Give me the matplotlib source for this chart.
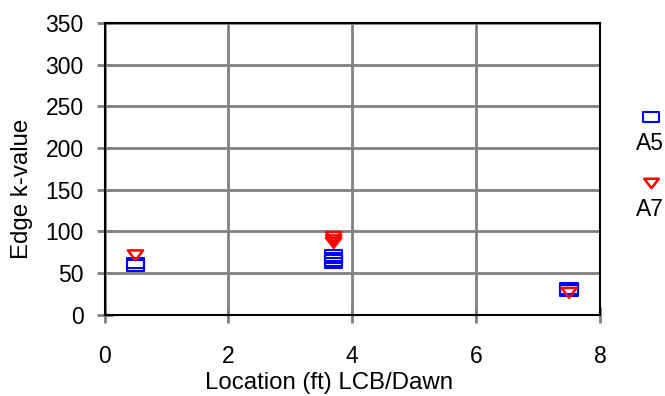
import matplotlib
matplotlib.use("Agg")
import matplotlib.pyplot as plt
from matplotlib.path import Path
from matplotlib.lines import Line2D

plt.rcParams['font.family'] = ['Liberation Sans', 'DejaVu Sans']

# Data
a5_x = [0.5, 0.5, 3.7, 3.7, 3.7, 3.7, 7.5, 7.5]
a5_y = [59, 62, 62, 65, 68, 71, 29, 31]
a7_x = [0.5, 3.7, 3.7, 3.7, 7.5]
a7_y = [71, 86, 89, 93, 26]
x_ticks = [0, 2, 4, 6, 8]
y_ticks = [0, 50, 100, 150, 200, 250, 300, 350]
series_names = ['A5', 'A7']

rect = Path([(-1, -0.6), (1, -0.6), (1, 0.6), (-1, 0.6), (-1, -0.6)],
            [Path.MOVETO, Path.LINETO, Path.LINETO, Path.LINETO, Path.CLOSEPOLY])
tri = Path([(-1, 0.65), (1, 0.65), (0, -0.65), (-1, 0.65)],
           [Path.MOVETO, Path.LINETO, Path.LINETO, Path.CLOSEPOLY])

W, H = 665, 396
fig = plt.figure(figsize=(W/100, H/100), dpi=100)
ax = fig.add_axes([104.5/W, 1 - 314.5/H, (600-104.5)/W, (314.5-23)/H])

ax.scatter(a5_x, a5_y, marker=rect, s=155, facecolors='none', edgecolors='#0000ff',
           linewidths=1.5, zorder=3)
ax.scatter(a7_x, a7_y, marker=tri, s=120, facecolors='none', edgecolors='#ff0000',
           linewidths=1.8, zorder=4)

ax.set_xlim(0, 8)
ax.set_ylim(0, 350)
ax.set_xticks(x_ticks)
ax.set_yticks(y_ticks)
ax.grid(True, color='#808080', linewidth=2)
ax.set_axisbelow(True)
for s in ax.spines.values():
    s.set_color('black')
    s.set_linewidth(1.5)
ax.tick_params(direction='inout', length=12, width=2, color='#808080', labelsize=16.5)
ax.tick_params(axis='y', pad=9)
ax.tick_params(axis='x', pad=16)
ax.set_xlabel('Location (ft) LCB/Dawn', fontsize=17.3)
ax.set_ylabel('Edge k-value', fontsize=17.3)
ax.xaxis.set_label_coords((329 - 104.5) / 495.5, -(383 - 314.5) / 291.5)
ax.xaxis.label.set_va('center')
ax.yaxis.set_label_coords(-(104.5 - 22) / 495.5, (314.5 - 189) / 291.5)
ax.yaxis.label.set_va('center')

# Legend: marker above label, outside right
fig.add_artist(Line2D([651/W], [1 - 117/H], marker=rect, markersize=11.5,
                      markerfacecolor='none', markeredgecolor='#0000ff',
                      markeredgewidth=1.5, linestyle='none'))
fig.add_artist(Line2D([651/W], [1 - 183/H], marker=tri, markersize=10.5,
                      markerfacecolor='none', markeredgecolor='#ff0000',
                      markeredgewidth=1.8, linestyle='none'))
fig.text(650/W, 1 - 143/H, series_names[0], fontsize=16.5, ha='center', va='center')
fig.text(650/W, 1 - 209/H, series_names[1], fontsize=16.5, ha='center', va='center')

fig.savefig('out.png', dpi=100)
